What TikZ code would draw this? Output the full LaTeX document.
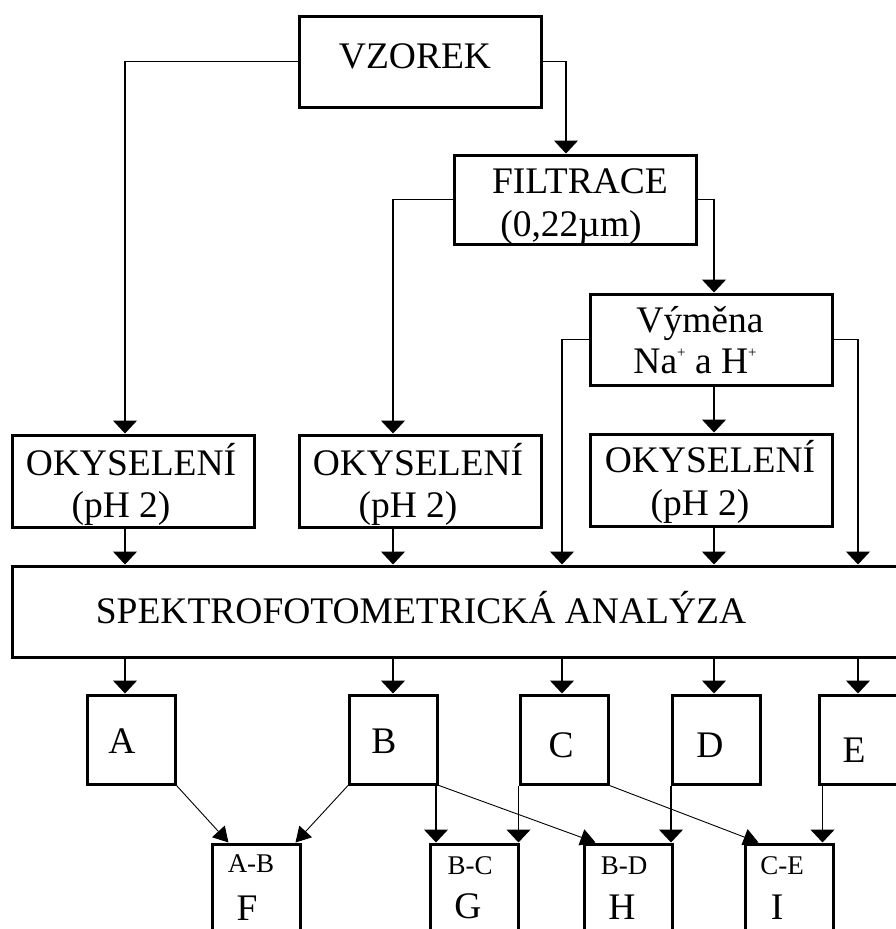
\documentclass[tikz,border=0pt]{standalone}
\usepackage{fontspec}
\setmainfont{Liberation Serif}
\usetikzlibrary{arrows.meta}
\tikzset{
  box/.style={draw, line width=3pt, inner sep=0pt, minimum width=242pt, minimum height=91pt},
  sbox/.style={draw, line width=3pt, inner sep=0pt, minimum width=88pt, minimum height=89pt},
  tbox/.style={draw, line width=3pt, inner sep=0pt, minimum width=88pt, minimum height=120pt},
  lbl/.style={anchor=base, inner sep=0pt, font=\fontsize{37.5}{43}\selectfont},
  slbl/.style={anchor=base, inner sep=0pt, font=\fontsize{27}{30}\selectfont},
  arr/.style={line width=1.3pt, -{Triangle[width=24pt,length=13pt]}},
  darr/.style={line width=0.9pt, -{Triangle[width=17pt,length=15pt]}},
}
\begin{document}
\begin{tikzpicture}[x=1pt,y=-1pt]
\useasboundingbox (0,0) rectangle (896,929);
\clip (0,0) rectangle (896,929);
% column coordinates
\coordinate (c1) at (125,0);
\coordinate (c2) at (393,0);
\coordinate (c3) at (562,0);
\coordinate (c4) at (714,0);
\coordinate (c5) at (858,0);
% boxes
\node[box] (vz) at (420,61.5) {};
\node[box, minimum height=89pt] (fi) at (575,199.5) {};
\node[box] (vy) at (711,339.5) {};
\node[box, minimum height=92pt] (ok1) at (133,481) {};
\node[box, minimum height=92pt] (ok2) at (420,481) {};
\node[box, minimum height=92pt] (ok3) at (711,480) {};
\node[box, minimum width=918pt] (sp) at (471,611.5) {};
\node[sbox] (A) at (131,739.5) {};
\node[sbox] (B) at (393.5,739.5) {};
\node[sbox] (C) at (564,739.5) {};
\node[sbox] (D) at (716.5,739.5) {};
\node[sbox] (E) at (863,739.5) {};
\node[tbox] (F) at (256,904) {};
\node[tbox] (G) at (474,904) {};
\node[tbox] (H) at (628,904) {};
\node[tbox] (I) at (789,904) {};
% texts
\node[lbl] (tvz) at (415,68) {VZOREK};
\node[lbl] (tfi1) at (580,193) {FILTRACE};
\node[lbl] (tfi2) at (571,236) {(0,22µm)};
\node[lbl] (tvy1) at (700,332) {Výměna};
\node[lbl] (tvy2) at (695,373) {Na\raisebox{0.42em}{\fontsize{15}{15}\selectfont +} a H\raisebox{0.42em}{\fontsize{15}{15}\selectfont +}};
\node[lbl] (tok1a) at (131,475) {OKYSELENÍ};
\node[lbl] (tok1b) at (121,517) {(pH 2)};
\node[lbl] (tok2a) at (418,475) {OKYSELENÍ};
\node[lbl] (tok2b) at (408,517) {(pH 2)};
\node[lbl] (tok3a) at (710,472) {OKYSELENÍ};
\node[lbl] (tok3b) at (700,515) {(pH 2)};
\node[lbl] (tsp) at (421,623) {SPEKTROFOTOMETRICKÁ ANALÝZA};
\node[lbl] (tA) at (122,753) {A};
\node[lbl] (tB) at (384,753) {B};
\node[lbl] (tC) at (561,757) {C};
\node[lbl] (tD) at (710,757) {D};
\node[lbl] (tE) at (854,762) {E};
\node[slbl] (tF1) at (251,872) {A-B};
\node[lbl] (tF2) at (247,920) {F};
\node[slbl] (tG1) at (470,874) {B-C};
\node[lbl] (tG2) at (468,918) {G};
\node[slbl] (tH1) at (624,874) {B-D};
\node[lbl] (tH2) at (622,919) {H};
\node[slbl] (tI1) at (782,874) {C-E};
\node[lbl] (tI2) at (777,919) {I};
% connectors top
\draw[arr] (vz.west) -| (c1 |- ok1.north);
\draw[arr] (vz.east) -| ([xshift=-9pt]fi.north);
\draw[arr] (fi.west) -| (c2 |- ok2.north);
\draw[arr] (fi.east) -| (c4 |- vy.north);
\draw[arr] (vy.west) -| (c3 |- sp.north);
\draw[arr] (vy.east) -| (c5 |- sp.north);
\draw[arr] (c4 |- vy.south) -- (c4 |- ok3.north);
\draw[arr] (c1 |- ok1.south) -- (c1 |- sp.north);
\draw[arr] (c2 |- ok2.south) -- (c2 |- sp.north);
\draw[arr] (c4 |- ok3.south) -- (c4 |- sp.north);
% spectro to results
\draw[arr] (c1 |- sp.south) -- (c1 |- A.north);
\draw[arr] (c2 |- sp.south) -- (c2 |- B.north);
\draw[arr] (c3 |- sp.south) -- (c3 |- C.north);
\draw[arr] (c4 |- sp.south) -- (c4 |- D.north);
\draw[arr] (c5 |- sp.south) -- (c5 |- E.north);
% results to combinations
\draw[darr] (A.south east) -- ([xshift=18pt]F.north west);
\draw[darr] (B.south west) -- ([xshift=-6pt]F.north east);
\draw[arr] ([xshift=-3pt]B.south east) -- ([xshift=-3pt]B.south east |- G.north);
\draw[arr] (C.south west) -- (C.south west |- G.north);
\draw[darr] (B.south east) -- ([xshift=13pt]H.north west);
\draw[arr] (D.south west) -- (D.south west |- H.north);
\draw[darr] (C.south east) -- ([xshift=15pt]I.north west);
\draw[arr] ([xshift=5pt]E.south west) -- ([xshift=5pt]E.south west |- I.north);
\end{tikzpicture}
\end{document}
